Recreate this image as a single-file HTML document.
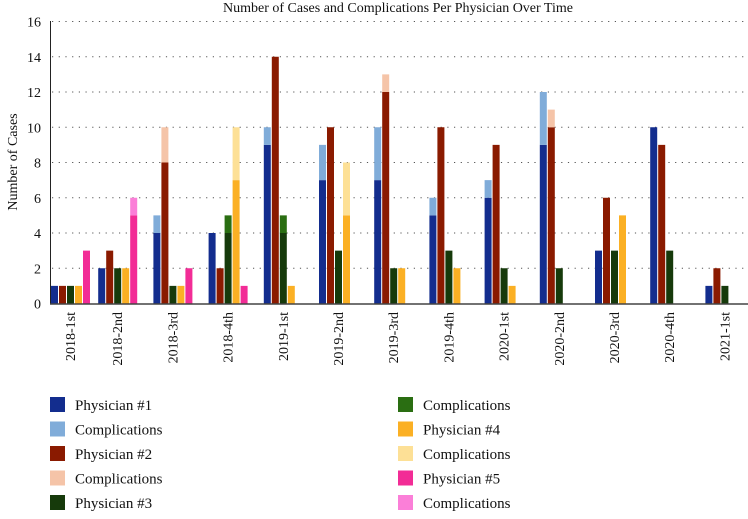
<!DOCTYPE html>
<html><head><meta charset="utf-8"><style>
body{margin:0;background:#fff;width:748px;height:514px;overflow:hidden;font-family:"Liberation Serif",serif}
svg text{font-family:"Liberation Serif",serif;fill:#111}
</style></head><body>
<svg id="chart" width="748" height="514" xmlns="http://www.w3.org/2000/svg"></svg>
<script>
const categories=["2018-1st","2018-2nd","2018-3rd","2018-4th","2019-1st","2019-2nd","2019-3rd","2019-4th","2020-1st","2020-2nd","2020-3rd","2020-4th","2021-1st"];
const p1=[1,2,4,4,9,7,7,5,6,9,3,10,1];
const p1c=[0,0,1,0,1,2,3,1,1,3,0,0,0];
const p2=[1,3,8,2,14,10,12,10,9,10,6,9,2];
const p2c=[0,0,2,0,0,0,1,0,0,1,0,0,0];
const p3=[1,2,1,4,4,3,2,3,2,2,3,3,1];
const p3c=[0,0,0,1,1,0,0,0,0,0,0,0,0];
const p4=[1,2,1,7,1,5,2,2,1,0,5,0,0];
const p4c=[0,0,0,3,0,3,0,0,0,0,0,0,0];
const p5=[3,5,2,1,0,0,0,0,0,0,0,0,0];
const p5c=[0,1,0,0,0,0,0,0,0,0,0,0,0];
const yTicks=[0,2,4,6,8,10,12,14,16];
const series=[
 {name:"Physician #1",v:p1,c:p1c,col:"#132d8e",cc:"#80acd9"},
 {name:"Physician #2",v:p2,c:p2c,col:"#8a1a00",cc:"#f5c4a8"},
 {name:"Physician #3",v:p3,c:p3c,col:"#163a0b",cc:"#2a6e12"},
 {name:"Physician #4",v:p4,c:p4c,col:"#fbb024",cc:"#fde096"},
 {name:"Physician #5",v:p5,c:p5c,col:"#f22c96",cc:"#fb7fd8"}];
const svg=document.getElementById('chart');
const NS="http://www.w3.org/2000/svg";
function mk(t,a,p){const e=document.createElementNS(NS,t);for(const k in a)e.setAttribute(k,a[k]);(p||svg).appendChild(e);return e;}
const y0=303.5,yTop=21.5,yMax=16;
function y(v){return y0-(v/yMax)*(y0-yTop);}
function gx(i){return Math.max(43+55.2*i,51);}
const bw=7,step=8;
// title
let t=mk('text',{x:398,y:12,'text-anchor':'middle','font-size':14});t.textContent="Number of Cases and Complications Per Physician Over Time";


// grid & ticks
yTicks.forEach(v=>{
 if(v>0){const g=mk('line',{x1:52,x2:748,y1:y(v),y2:y(v),stroke:'#555','stroke-width':1,'stroke-dasharray':'1.2,5.5'});
 
 }
 const tl=mk('text',{x:41,y:y(v)+5,'text-anchor':'end','font-size':14});tl.textContent=v;
 
 
});
const yt=mk('text',{transform:'translate(17,162) rotate(-90)','text-anchor':'middle','font-size':14});yt.textContent="Number of Cases";


// bars
categories.forEach((cat,i)=>{
 const x0=gx(i);
 series.forEach((s,j)=>{
  const x=x0+j*step;
  if(s.v[i]>0){const r=mk('rect',{x:x,y:y(s.v[i]),width:bw,height:y(0)-y(s.v[i]),fill:s.col});
   
   }
  if(s.c[i]>0){const r=mk('rect',{x:x,y:y(s.v[i]+s.c[i]),width:bw,height:y(s.v[i])-y(s.v[i]+s.c[i]),fill:s.cc});
   
   }
 });
 const l=mk('text',{transform:'translate('+(x0+24)+',312) rotate(-90)','text-anchor':'end','font-size':14});l.textContent=cat;
 
 
});
// axes
const ax=mk('line',{x1:50.5,x2:50.5,y1:21,y2:304,stroke:'#222','stroke-width':1});


const bx=mk('line',{x1:50,x2:748,y1:304,y2:304,stroke:'#444','stroke-width':1.5});


// legend
const leg=[];series.forEach(s=>{leg.push([s.name,s.col]);leg.push(["Complications",s.cc]);});
leg.forEach((e,k)=>{
 const col=k<5?0:1,row=k%5;
 const lx=col?398:50,ly=397+row*24.5;
 const g=mk('g',{});
 
 
 mk('rect',{x:lx,y:ly,width:15,height:15,fill:e[1]},g);
 const tx=mk('text',{x:lx+25,y:ly+13,'font-size':15},g);tx.textContent=e[0];
});
</script>
</body></html>
